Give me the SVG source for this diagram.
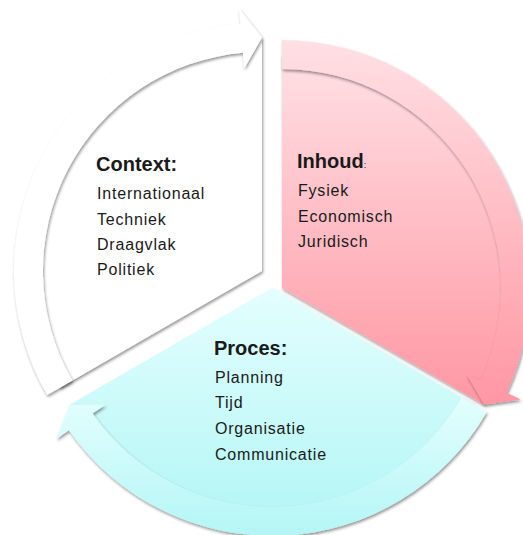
<svg xmlns="http://www.w3.org/2000/svg" width="523" height="535" viewBox="0 0 523 535">
  <defs>
    <linearGradient id="gPink" x1="0" y1="0" x2="0" y2="1">
      <stop offset="0" stop-color="#ffe0e4"/>
      <stop offset="1" stop-color="#ff97a3"/>
    </linearGradient>
    <linearGradient id="gCyan" x1="0" y1="0" x2="0" y2="1">
      <stop offset="0" stop-color="#e4fefe"/>
      <stop offset="1" stop-color="#b3f6f5"/>
    </linearGradient>
    <filter id="soft" x="-10%" y="-10%" width="120%" height="120%">
      <feGaussianBlur in="SourceAlpha" stdDeviation="1.6"/>
      <feOffset dx="0.6" dy="1.6" result="b"/>
      <feFlood flood-color="#000" flood-opacity="0.42"/>
      <feComposite in2="b" operator="in"/>
      <feMerge>
        <feMergeNode/>
        <feMergeNode in="SourceGraphic"/>
      </feMerge>
    </filter>
  </defs>
  <style>
    .seg { filter: url(#soft); }
    .white { fill: #ffffff; }
    .pink { fill: url(#gPink); }
    .cyan { fill: url(#gCyan); }
    text { font-family: "Liberation Sans", Arial, sans-serif; fill: #1a1a1a; }
    .head { font-size: 20px; font-weight: bold; }
    .item { font-size: 16px; letter-spacing: 0.8px; }
  </style>

  <rect width="523" height="535" fill="#ffffff"/>

  <!-- Context segment: upper-left third -->
  <g id="context">
    <path class="seg white" d="M262,271 L60.2,387.5 A233,233 0 0 1 262,38 Z"/>
    <text class="head" x="96" y="171">Context:</text>
    <text class="item" x="97" y="199">Internationaal</text>
    <text class="item" x="97" y="224.5">Techniek</text>
    <text class="item" x="97" y="250">Draagvlak</text>
    <text class="item" x="97" y="275">Politiek</text>
  </g>

  <!-- Inhoud segment: right third -->
  <g id="inhoud">
    <path class="seg pink" d="M282,288 L282,55 A233,233 0 0 1 483.8,404.5 Z"/>
    <text class="head" x="297" y="168">Inhoud<tspan font-size="9" font-weight="normal">:</tspan></text>
    <text class="item" x="298" y="196">Fysiek</text>
    <text class="item" x="298" y="221.5">Economisch</text>
    <text class="item" x="298" y="247">Juridisch</text>
  </g>

  <!-- Proces segment: bottom third -->
  <g id="proces">
    <path class="seg cyan" d="M272,288 L473.8,404.5 A233,233 0 0 1 70.2,404.5 Z"/>
    <text class="head" x="214" y="355">Proces:</text>
    <text class="item" x="215" y="383">Planning</text>
    <text class="item" x="215" y="408">Tijd</text>
    <text class="item" x="215" y="434">Organisatie</text>
    <text class="item" x="215" y="460">Communicatie</text>
  </g>

  <!-- Circular arrows linking the three segments clockwise -->
  <g id="connectors">
    <path class="seg white" d="M47.2,395 A248,248 0 0 1 240.4,23.9 L239,8.5 L262,37.5 L244.3,68.3 L242.9,52.8 A219,219 0 0 0 72.3,380.5 Z"/>
    <path class="seg pink" d="M282,40 A248,248 0 0 1 506.8,392.8 L520.8,399.4 L484.2,404.75 L466.4,374 L480.5,380.6 A219,219 0 0 0 282,69 Z"/>
    <path class="seg cyan" d="M486.8,412 A248,248 0 0 1 68.9,430.2 L56.2,439.1 L69.8,404.75 L105.3,404.7 L92.6,413.6 A219,219 0 0 0 461.7,397.5 Z"/>
  </g>
</svg>
